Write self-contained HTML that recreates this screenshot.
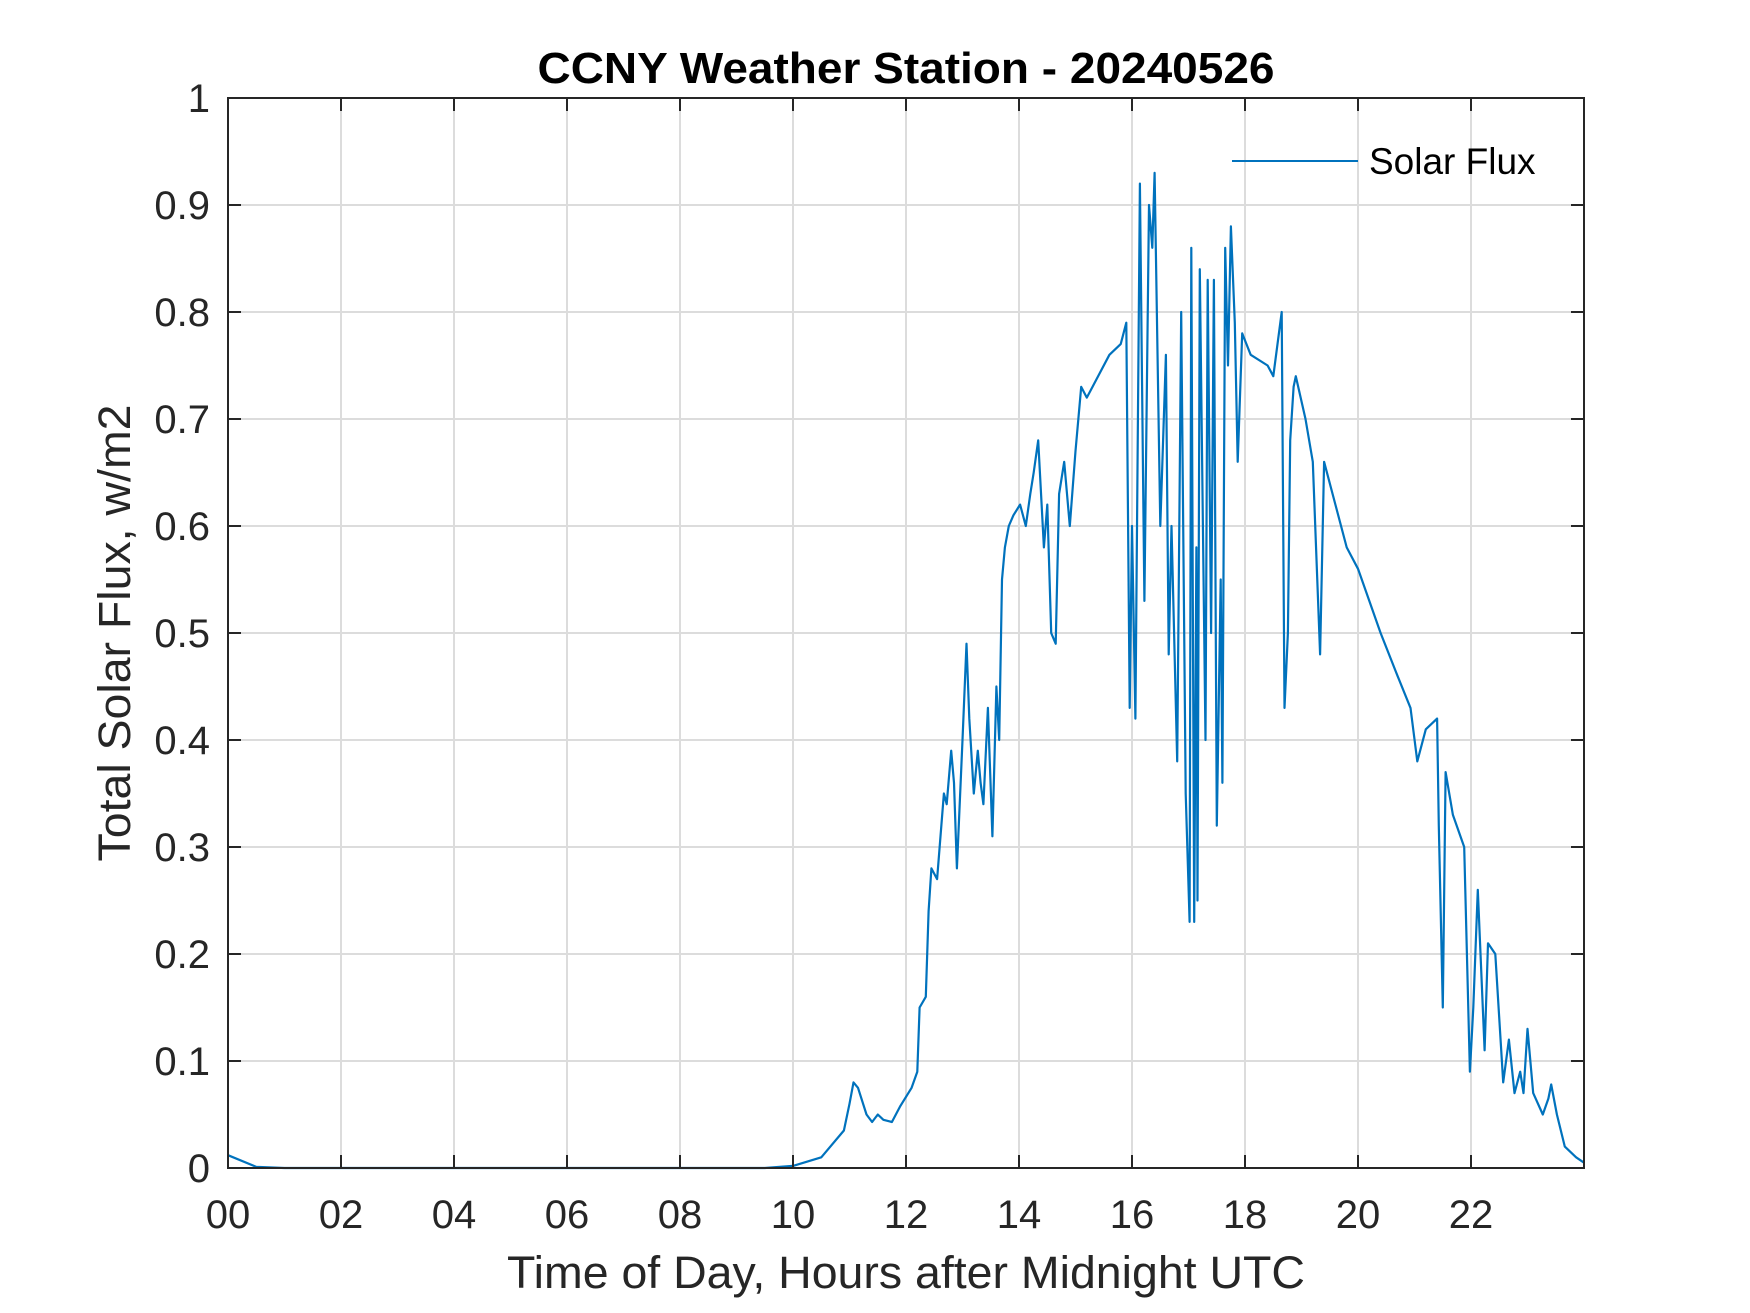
<!DOCTYPE html>
<html><head><meta charset="utf-8"><style>
html,body{margin:0;padding:0;background:#fff;}
svg{display:block;font-family:"Liberation Sans",Arial,sans-serif;}
</style></head><body>
<svg id="chart" width="1750" height="1313" viewBox="0 0 1750 1313">
<rect x="0" y="0" width="1750" height="1313" fill="#fff"/>
<g id="grid"></g>
<g id="series"></g>
<g id="axes"></g>
<text x="906" y="83" text-anchor="middle" font-size="44" font-weight="bold" fill="#000" textLength="737" lengthAdjust="spacingAndGlyphs">CCNY Weather Station - 20240526</text>
<text x="906" y="1288" text-anchor="middle" font-size="45" fill="#262626" textLength="798" lengthAdjust="spacingAndGlyphs">Time of Day, Hours after Midnight UTC</text>
<text x="0" y="0" transform="translate(130,633) rotate(-90)" text-anchor="middle" font-size="45" fill="#262626" textLength="457" lengthAdjust="spacingAndGlyphs">Total Solar Flux, w/m2</text>
<g>
<line x1="1232" y1="161" x2="1358" y2="161" stroke="#0072BD" stroke-width="2"/>
<text x="1369" y="174" font-size="37" fill="#000">Solar Flux</text>
</g>
</svg>
<script>
const xTicks = [0,2,4,6,8,10,12,14,16,18,20,22];
const xTickLabels = ["00","02","04","06","08","10","12","14","16","18","20","22"];
const yTicks = [0,0.1,0.2,0.3,0.4,0.5,0.6,0.7,0.8,0.9,1];
const yTickLabels = ["0","0.1","0.2","0.3","0.4","0.5","0.6","0.7","0.8","0.9","1"];
const hours = [0,0.5,1,3,5,7,9,9.5,10,10.5,10.9,11.0,11.07,11.15,11.3,11.4,11.5,11.6,11.75,11.9,12.1,12.2,12.24,12.35,12.4,12.45,12.55,12.67,12.72,12.8,12.85,12.9,13.0,13.07,13.12,13.2,13.27,13.32,13.37,13.45,13.53,13.6,13.65,13.7,13.75,13.82,13.9,14.02,14.12,14.2,14.26,14.34,14.44,14.5,14.57,14.65,14.71,14.8,14.9,15.0,15.1,15.2,15.3,15.4,15.6,15.8,15.9,15.96,16.0,16.06,16.14,16.22,16.3,16.36,16.4,16.5,16.6,16.65,16.7,16.8,16.87,16.95,17.02,17.05,17.1,17.14,17.16,17.2,17.3,17.34,17.4,17.45,17.5,17.57,17.6,17.65,17.7,17.75,17.82,17.87,17.95,18.1,18.4,18.5,18.65,18.7,18.76,18.8,18.86,18.9,19.07,19.2,19.33,19.4,19.6,19.8,20.0,20.2,20.4,20.7,20.93,21.05,21.2,21.4,21.43,21.5,21.55,21.68,21.88,21.98,22.04,22.12,22.24,22.3,22.43,22.57,22.67,22.77,22.87,22.93,23.0,23.1,23.27,23.37,23.42,23.52,23.66,23.86,24];
const flux = [0.012,0.001,0,0,0,0,0,0,0.002,0.01,0.035,0.06,0.08,0.075,0.05,0.043,0.05,0.045,0.043,0.058,0.075,0.09,0.15,0.16,0.24,0.28,0.27,0.35,0.34,0.39,0.36,0.28,0.4,0.49,0.42,0.35,0.39,0.36,0.34,0.43,0.31,0.45,0.40,0.55,0.58,0.6,0.61,0.62,0.6,0.63,0.65,0.68,0.58,0.62,0.5,0.49,0.63,0.66,0.6,0.67,0.73,0.72,0.73,0.74,0.76,0.77,0.79,0.43,0.6,0.42,0.92,0.53,0.9,0.86,0.93,0.6,0.76,0.48,0.6,0.38,0.8,0.35,0.23,0.86,0.23,0.58,0.25,0.84,0.4,0.83,0.5,0.83,0.32,0.55,0.36,0.86,0.75,0.88,0.79,0.66,0.78,0.76,0.75,0.74,0.8,0.43,0.5,0.68,0.73,0.74,0.70,0.66,0.48,0.66,0.62,0.58,0.56,0.53,0.5,0.46,0.43,0.38,0.41,0.42,0.32,0.15,0.37,0.33,0.3,0.09,0.15,0.26,0.11,0.21,0.2,0.08,0.12,0.07,0.09,0.07,0.13,0.07,0.05,0.065,0.078,0.05,0.02,0.01,0.005];

const L=228,R=1584,T=98,B=1168;
const xMin=0,xMax=24,yMin=0,yMax=1;
function xs(h){return L+(h-xMin)/(xMax-xMin)*(R-L);}
function ys(v){return B-(v-yMin)/(yMax-yMin)*(B-T);}
const NS="http://www.w3.org/2000/svg";
function mk(tag,attrs,parent){const e=document.createElementNS(NS,tag);for(const k in attrs)e.setAttribute(k,attrs[k]);parent.appendChild(e);return e;}
const grid=document.getElementById('grid'),axes=document.getElementById('axes'),series=document.getElementById('series');

xTicks.forEach((t,i)=>{
  const x=xs(t);
  const g=mk('line',{x1:x,y1:T,x2:x,y2:B,stroke:'#dcdcdc','stroke-width':2},grid);
  
  
  const t1=mk('line',{x1:x,y1:B,x2:x,y2:B-13,stroke:'#262626','stroke-width':2},axes);
  
  
  const t2=mk('line',{x1:x,y1:T,x2:x,y2:T+13,stroke:'#262626','stroke-width':2},axes);
  
  
  const lb=mk('text',{x:x,y:1228,'text-anchor':'middle','font-size':40,fill:'#262626'},axes);
  lb.textContent=xTickLabels[i];
  
  
});
yTicks.forEach((t,i)=>{
  const y=ys(t);
  const g=mk('line',{x1:L,y1:y,x2:R,y2:y,stroke:'#dcdcdc','stroke-width':2},grid);
  
  
  const t1=mk('line',{x1:L,y1:y,x2:L+13,y2:y,stroke:'#262626','stroke-width':2},axes);
  
  
  const t2=mk('line',{x1:R,y1:y,x2:R-13,y2:y,stroke:'#262626','stroke-width':2},axes);
  
  
  const lb=mk('text',{x:210,y:y+14,'text-anchor':'end','font-size':40,fill:'#262626'},axes);
  lb.textContent=yTickLabels[i];
  
  
});
const box=mk('rect',{x:L,y:T,width:R-L,height:B-T,fill:'none',stroke:'#262626','stroke-width':2},axes);



let d='';
hours.forEach((h,i)=>{d+=(i?'L':'M')+xs(h).toFixed(1)+' '+ys(flux[i]).toFixed(1)+' ';});
const p=mk('path',{d:d,fill:'none',stroke:'#0072BD','stroke-width':2.2,'stroke-linejoin':'round'},series);


</script>
</body></html>
